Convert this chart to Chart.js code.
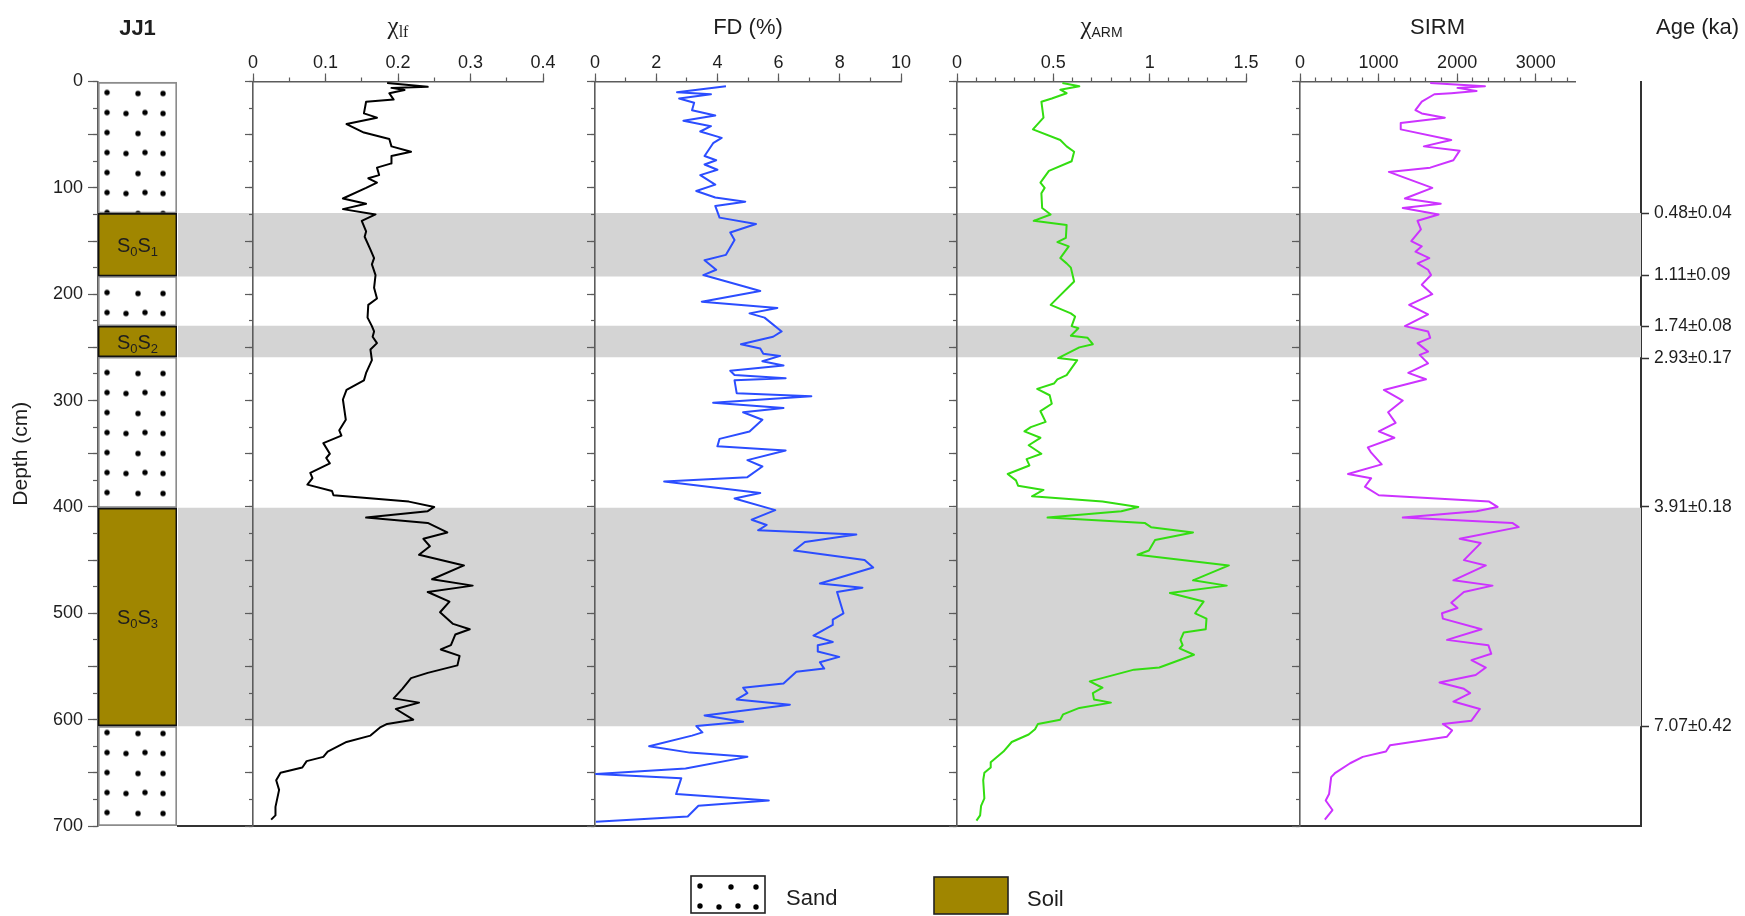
<!DOCTYPE html>
<html>
<head>
<meta charset="utf-8">
<title>JJ1 magnetic parameters</title>
<script src="https://cdn.jsdelivr.net/npm/chart.js@4.4.1/dist/chart.umd.min.js"></script>
<style>
  html, body { margin: 0; padding: 0; background: #fff; }
  #wrap { position: relative; width: 1745px; height: 916px; overflow: hidden; background: #fff; }
  #wrap canvas { position: absolute; left: 0; top: 0; }
</style>
</head>
<body>
<div id="wrap">
  <canvas id="bg" width="1745" height="916"></canvas>
  <canvas id="lith" width="1745" height="916"></canvas>
  <canvas id="pChiLf" width="1745" height="916"></canvas>
  <canvas id="pFd" width="1745" height="916"></canvas>
  <canvas id="pChiArm" width="1745" height="916"></canvas>
  <canvas id="pSirm" width="1745" height="916"></canvas>
</div>
<script>
// ---------------- data ----------------
const depthTicks = [0, 100, 200, 300, 400, 500, 600, 700];

// lithology of profile JJ1 (depth in cm)
const layerTop    = [0,   124, 183, 230, 259, 401, 606];
const layerBottom = [124, 183, 230, 259, 401, 606, 700];
const layerType   = ['sand', 'soil', 'sand', 'soil', 'sand', 'soil', 'sand'];
const layerName   = ['', 'S0S1', '', 'S0S2', '', 'S0S3', ''];

// shaded palaeosol intervals
const bandTop    = [124, 230, 401];
const bandBottom = [183, 259, 606];

// OSL ages
const ageDepth  = [124, 182, 230, 260, 400, 606];
const ageLabels = ['0.48±0.04', '1.11±0.09', '1.74±0.08', '2.93±0.17', '3.91±0.18', '7.07±0.42'];

// axis tick labels
const chiLfTicks  = [0, 0.1, 0.2, 0.3, 0.4];
const fdTicks     = [0, 2, 4, 6, 8, 10];
const chiArmTicks = [0, 0.5, 1, 1.5];
const sirmTicks   = [0, 1000, 2000, 3000];

// low-frequency susceptibility
const chiLfDepth = [1.4,5,6,8,11,17,19,30,34,40,48,54,61,66,70,77,81,88,91,95,100,110,115,120,125,131,141,146,158,166,172,182,194,204,210,222,230,235,240,246,252,262,274,281,290,299,318,328,333,340,350,354,359,368,373,379,385,389,395,400,404,410,415,424,430,437,445,455,468,474,480,489,499,510,515,520,530,534,540,549,556,561,571,580,584,590,600,604,607,615,621,630,635,639,645,650,657,666,682,690,694];
const chiLfValue = [0.185,0.241,0.191,0.209,0.188,0.194,0.156,0.153,0.171,0.129,0.153,0.188,0.191,0.218,0.191,0.191,0.171,0.174,0.159,0.171,0.156,0.124,0.156,0.124,0.169,0.150,0.156,0.154,0.162,0.167,0.164,0.169,0.167,0.171,0.159,0.158,0.164,0.167,0.165,0.171,0.162,0.164,0.156,0.153,0.129,0.124,0.128,0.119,0.122,0.097,0.106,0.101,0.106,0.079,0.082,0.075,0.109,0.111,0.215,0.250,0.241,0.156,0.241,0.268,0.235,0.244,0.229,0.291,0.247,0.303,0.241,0.271,0.258,0.276,0.299,0.279,0.273,0.259,0.285,0.282,0.241,0.218,0.206,0.194,0.229,0.197,0.221,0.185,0.176,0.162,0.129,0.103,0.097,0.074,0.068,0.038,0.032,0.036,0.031,0.031,0.025];

// frequency-dependent susceptibility (%)
const fdDepth = [4.5,10,12,16,20,27,32,37,42,47,53,58,70,74,78,83,88,97,103,109,113,117,128,134,142,149,163,168,177,182,193,197,207,213,218,222,235,240,247,251,256,258,263,267,272,276,279,281,293,296,302,307,311,318,329,336,343,347,356,362,372,376,387,392,403,412,417,422,426,433,441,450,457,472,476,480,500,506,511,521,527,530,536,541,546,552,555,566,570,575,581,586,596,602,606,612,615,625,631,635,646,651,655,670,676,681,691,696];
const fdValue = [4.28,2.68,3.79,2.75,3.24,3.17,3.93,2.89,3.79,3.44,4.14,3.86,3.58,3.96,3.58,4.00,3.44,3.93,3.31,3.93,4.91,3.93,4.07,5.26,4.42,4.56,4.28,3.58,3.96,3.54,4.91,5.40,3.49,5.96,5.05,5.54,6.10,5.82,4.77,5.40,5.50,6.05,5.47,6.16,4.42,4.56,6.23,4.56,4.63,7.07,3.86,6.16,4.84,5.47,5.05,4.07,4.00,6.23,4.98,5.47,4.98,2.26,5.40,4.56,5.89,5.12,5.61,5.33,8.54,6.86,6.51,8.81,9.09,7.35,8.74,7.91,8.12,7.77,7.77,7.14,7.77,7.28,7.28,7.98,7.35,7.49,6.58,6.16,4.84,4.98,4.63,6.37,3.58,4.84,3.31,3.51,3.17,1.77,3.10,4.98,2.96,0.03,2.82,2.65,5.68,3.38,3.03,0.03];

// anhysteretic remanent susceptibility
const chiArmDepth = [1.4,4.5,7.7,11,16,19,34,45,55,61,66,75,84,95,100,105,119,125,131,135,147,151,155,166,171,175,188,210,218,221,230,232,239,241,247,250,260,262,276,280,284,289,295,303,310,320,325,329,335,342,350,355,361,369,375,380,384,390,395,400,404,410,415,419,424,431,441,445,455,469,474,481,489,500,505,515,518,525,530,533,539,551,553,564,570,575,581,584,589,595,600,604,609,614,621,630,640,645,650,657,674,681,690,695];
const chiArmValue = [0.547,0.635,0.536,0.569,0.492,0.438,0.449,0.394,0.536,0.569,0.608,0.595,0.477,0.433,0.455,0.438,0.442,0.486,0.398,0.569,0.565,0.521,0.580,0.536,0.569,0.591,0.608,0.486,0.591,0.613,0.595,0.630,0.591,0.678,0.705,0.635,0.525,0.624,0.569,0.521,0.503,0.416,0.481,0.492,0.433,0.460,0.383,0.350,0.433,0.372,0.438,0.361,0.376,0.263,0.306,0.317,0.449,0.389,0.755,0.941,0.853,0.470,0.974,1.007,1.225,1.028,0.996,0.937,1.411,1.225,1.400,1.105,1.280,1.236,1.295,1.291,1.177,1.160,1.171,1.155,1.230,1.050,0.919,0.689,0.755,0.705,0.711,0.799,0.635,0.551,0.536,0.420,0.405,0.372,0.284,0.241,0.175,0.175,0.142,0.136,0.142,0.125,0.120,0.101];

// saturation isothermal remanent magnetisation
const sirmDepth = [1.4,4.5,6,9,11,12,19,27,30,34,39,45,55,61,65,74,81,85,100,110,115,119,125,131,139,150,155,160,166,171,177,182,191,200,210,219,230,235,241,246,254,257,265,274,280,290,300,311,321,329,335,344,349,360,369,373,381,389,395,400,404,410,415,419,430,434,450,455,469,474,480,490,495,500,505,515,525,530,538,544,551,558,565,571,575,583,590,601,604,610,616,624,630,635,641,650,654,670,676,685,694];
const sirmValue = [1657,2354,2005,2247,1925,1710,1550,1469,1550,1844,1282,1282,1925,1576,2032,1952,1657,1131,1684,1335,1791,1308,1764,1496,1539,1416,1550,1469,1646,1496,1630,1668,1550,1684,1389,1630,1335,1630,1657,1496,1630,1523,1630,1378,1603,1067,1308,1121,1217,1003,1201,863,906,1040,611,906,826,1003,2407,2515,2247,1308,2702,2783,2032,2300,2086,2365,1952,2450,2086,1925,2005,1807,1818,2311,1871,2397,2434,2182,2365,2236,1775,2086,2166,1952,2290,2182,1818,1936,1871,1147,1094,799,638,450,397,370,327,413,316];

// ---------------- styling / layout ----------------
const W = 1745, H = 916;
const TOP = 81.5, BOTTOM = 826;          // depth 0 and 700 rows
const SANS = "'Liberation Sans', Arial, Helvetica, sans-serif";
const SERIF = "'Liberation Serif', 'Times New Roman', serif";
const AXIS = '#5c5c5c';
const FRAME = '#333333';
const TEXT = '#1e1e1e';
const BAND = '#d4d4d4';
const SOIL = '#a08600';

Chart.defaults.font.family = SANS;
Chart.defaults.color = TEXT;

const fix = (prop, v) => s => { s[prop] = v; };
const f = (size, family, weight) => `${weight || 'normal'} ${size}px ${family || SANS}`;

// dotted texture used for sand
function makeSandPattern() {
  const c = document.createElement('canvas');
  c.width = 80; c.height = 40;
  const g = c.getContext('2d');
  g.fillStyle = '#000';
  [[9, 11], [40, 12], [65, 12], [9, 31], [28, 32], [47, 31], [65, 32]].forEach(([x, y]) => {
    g.beginPath(); g.arc(x, y, 2.7, 0, Math.PI * 2); g.fill();
  });
  return g.createPattern(c, 'repeat');
}
const sandPattern = makeSandPattern();
const legendPattern = makeSandPattern();

// text made of runs with different fonts (sub/superscripts)
const richText = {
  id: 'richText',
  afterDraw(chart, args, opts) {
    const ctx = chart.ctx;
    const ca = chart.chartArea;
    (opts.items || []).forEach(item => {
      let total = 0;
      item.segs.forEach(s => { ctx.font = s.font; s._w = ctx.measureText(s.text).width; total += s._w; });
      const cx = item.x !== undefined ? item.x : (ca.left + ca.right) / 2;
      let x = item.align === 'left' ? cx : cx - total / 2;
      ctx.save();
      ctx.fillStyle = item.color || TEXT;
      ctx.textBaseline = 'alphabetic';
      item.segs.forEach(s => { ctx.font = s.font; ctx.fillText(s.text, x, item.y + (s.dy || 0)); x += s._w; });
      ctx.restore();
    });
  }
};

function depthAxes(majorWidth, minorLen, majorLen, extra) {
  return {
    y: {
      type: 'linear', position: 'left', reverse: true, min: 0, max: 700, weight: 0,
      afterFit: fix('width', 0),
      ticks: { display: false, stepSize: 25 },
      grid: { drawOnChartArea: false, tickLength: minorLen, tickColor: AXIS, tickWidth: 1.2 },
      border: { color: AXIS, width: 1.6 }
    },
    y2: Object.assign({
      type: 'linear', position: 'left', reverse: true, min: 0, max: 700, weight: 1,
      afterFit: fix('width', majorWidth),
      ticks: { display: false, stepSize: 50 },
      grid: { drawOnChartArea: false, tickLength: majorLen, tickColor: AXIS, tickWidth: 1.2 },
      border: { display: false }
    }, extra || {})
  };
}

// ---------------- background: palaeosol bands, frame, age axis, legend ----------------
const legendPlugin = {
  id: 'lithLegend',
  afterDraw(chart) {
    const ctx = chart.ctx;
    ctx.save();
    // sand
    legendPattern.setTransform(new DOMMatrix().translate(691, 875));
    ctx.fillStyle = '#fff'; ctx.fillRect(691, 876, 74, 37);
    ctx.fillStyle = legendPattern; ctx.fillRect(691, 876, 74, 37);
    ctx.strokeStyle = '#222'; ctx.lineWidth = 1.6; ctx.strokeRect(691, 876, 74, 37);
    // soil
    ctx.fillStyle = SOIL; ctx.fillRect(934, 877, 74, 37);
    ctx.strokeRect(934, 877, 74, 37);
    ctx.fillStyle = TEXT; ctx.font = f(22); ctx.textBaseline = 'alphabetic';
    ctx.fillText('Sand', 786, 905);
    ctx.fillText('Soil', 1027, 906);
    ctx.restore();
  }
};

new Chart(document.getElementById('bg'), {
  type: 'bar',
  data: {
    labels: ['bands'],
    datasets: bandTop.map((t, i) => ({
      data: [[t, bandBottom[i]]],
      backgroundColor: BAND, borderWidth: 0,
      grouped: false, barPercentage: 1, categoryPercentage: 1
    }))
  },
  options: {
    responsive: false, animation: false, events: [],
    layout: { autoPadding: false, padding: { left: 178, right: 0, top: TOP, bottom: H - BOTTOM } },
    plugins: {
      legend: { display: false }, tooltip: { enabled: false },
      richText: { items: [{ segs: [{ text: 'Age (ka)', font: f(22) }], x: 1656, y: 34, align: 'left' }] }
    },
    scales: {
      x: {
        position: 'bottom', afterFit: fix('height', 0),
        ticks: { display: false }, grid: { display: false },
        border: { display: true, color: FRAME, width: 2 }
      },
      y: { display: false, min: 0, max: 700, reverse: true },
      age: {
        type: 'linear', position: 'right', min: 0, max: 700, reverse: true,
        afterFit: fix('width', W - 1641),
        afterBuildTicks: s => { s.ticks = ageDepth.map(v => ({ value: v })); },
        ticks: { autoSkip: false, padding: 5, color: TEXT, font: { size: 17.5 }, callback: (v, i) => ageLabels[i] },
        grid: { drawOnChartArea: false, tickLength: 8, tickColor: FRAME, tickWidth: 1.5 },
        border: { color: FRAME, width: 2 }
      }
    }
  },
  plugins: [richText, legendPlugin]
});

// ---------------- lithology column with depth axis ----------------
const soilLabelPlugin = {
  id: 'soilLabels',
  beforeDatasetsDraw(chart) {
    const ca = chart.chartArea;
    sandPattern.setTransform(new DOMMatrix().translate(ca.left, ca.top));
  },
  afterDatasetsDraw(chart) {
    const { ctx, chartArea: ca } = chart;
    const y = chart.scales.y;
    const cx = (ca.left + ca.right) / 2;
    ctx.save();
    ctx.fillStyle = TEXT;
    ctx.textBaseline = 'alphabetic';
    layerType.forEach((t, i) => {
      if (t !== 'soil') return;
      const cy = y.getPixelForValue((layerTop[i] + layerBottom[i]) / 2);
      const segs = layerName[i].split('').map(ch =>
        /\d/.test(ch) ? { text: ch, font: f(13), dy: 4 } : { text: ch, font: f(20), dy: 0 });
      let total = 0;
      segs.forEach(s => { ctx.font = s.font; s.w = ctx.measureText(s.text).width; total += s.w; });
      let x = cx - total / 2;
      segs.forEach(s => { ctx.font = s.font; ctx.fillText(s.text, x, cy + 7 + s.dy); x += s.w; });
    });
    ctx.restore();
  }
};

new Chart(document.getElementById('lith'), {
  type: 'bar',
  data: {
    labels: ['JJ1'],
    datasets: layerTop.map((t, i) => {
      const soil = layerType[i] === 'soil';
      return {
        data: [[t, layerBottom[i]]],
        backgroundColor: soil ? SOIL : sandPattern,
        borderColor: soil ? '#111' : '#8c8c8c',
        borderWidth: soil ? 1.8 : 1.3,
        borderSkipped: false, grouped: false,
        barPercentage: 1, categoryPercentage: 1,
        order: soil ? 0 : 1, yAxisID: 'y'
      };
    })
  },
  options: {
    responsive: false, animation: false, events: [],
    layout: { autoPadding: false, padding: { left: 0, right: W - 177, top: TOP, bottom: H - BOTTOM } },
    plugins: {
      legend: { display: false }, tooltip: { enabled: false },
      richText: { items: [{ segs: [{ text: 'JJ1', font: f(22, SANS, 'bold') }], y: 35 }] }
    },
    scales: Object.assign({ x: { display: false } }, depthAxes(98, 5, 10, {
      afterBuildTicks: s => {
        const t = [];
        for (let v = 0; v <= 700; v += 50) t.push({ value: v });
        s.ticks = t;
      },
      ticks: {
        display: true, autoSkip: false, padding: 5, color: TEXT, font: { size: 18 },
        callback: v => (depthTicks.includes(v) ? String(v) : '')
      },
      title: { display: true, text: 'Depth (cm)', color: TEXT, font: { size: 21 }, padding: { top: 9, bottom: 0 } }
    }))
  },
  plugins: [richText, soilLabelPlugin]
});

// ---------------- curve panels ----------------
function panel(canvasId, p) {
  const points = p.depth.map((d, i) => ({ x: p.values[i], y: d }));
  return new Chart(document.getElementById(canvasId), {
    type: 'scatter',
    data: {
      datasets: [{
        data: points, showLine: true, borderColor: p.color, borderWidth: 2,
        pointRadius: 0, borderJoinStyle: 'round', xAxisID: 'x', yAxisID: 'y'
      }]
    },
    options: {
      responsive: false, animation: false, events: [],
      layout: { autoPadding: false, padding: { left: p.left - 20, right: W - p.right, top: TOP - 40, bottom: H - BOTTOM } },
      plugins: {
        legend: { display: false }, tooltip: { enabled: false },
        richText: { items: [{ segs: p.title, y: 34 }] }
      },
      scales: Object.assign({
        x: {
          type: 'linear', position: 'top', min: p.min, max: p.max, weight: 0,
          afterFit: fix('height', 0),
          ticks: { display: false, stepSize: p.minor, includeBounds: false },
          grid: { drawOnChartArea: false, tickLength: 4, tickColor: AXIS, tickWidth: 1.2 },
          border: { color: AXIS, width: 1.6 }
        },
        x2: {
          type: 'linear', position: 'top', min: p.min, max: p.max, weight: 1,
          afterFit: fix('height', 40),
          afterBuildTicks: s => { s.ticks = p.ticks.map(v => ({ value: v })); },
          ticks: { padding: 0, maxRotation: 0, autoSkip: false, color: TEXT, font: { size: 18 }, callback: v => String(v) },
          grid: { drawOnChartArea: false, tickLength: 8, tickColor: AXIS, tickWidth: 1.2 },
          border: { display: false }
        }
      }, depthAxes(20, 4, 8))
    },
    plugins: [richText]
  });
}

panel('pChiLf', {
  depth: chiLfDepth, values: chiLfValue, color: '#000000',
  left: 253, right: 543, min: 0, max: 0.4, minor: 0.05, ticks: chiLfTicks,
  title: [{ text: 'χ', font: f(25, SERIF) }, { text: 'lf', font: f(16, SERIF), dy: 3 }]
});
panel('pFd', {
  depth: fdDepth, values: fdValue, color: '#2b4dff',
  left: 595, right: 901, min: 0, max: 10, minor: 1, ticks: fdTicks,
  title: [{ text: 'FD (%)', font: f(22) }]
});
panel('pChiArm', {
  depth: chiArmDepth, values: chiArmValue, color: '#33dd11',
  left: 957, right: 1246, min: 0, max: 1.5, minor: 0.1, ticks: chiArmTicks,
  title: [{ text: 'χ', font: f(25, SERIF) }, { text: 'ARM', font: f(14), dy: 3 }]
});
panel('pSirm', {
  depth: sirmDepth, values: sirmValue, color: '#cc33ff',
  left: 1300, right: 1575, min: 0, max: 3500, minor: 200, ticks: sirmTicks,
  title: [{ text: 'SIRM', font: f(22) }]
});
</script>
</body>
</html>
